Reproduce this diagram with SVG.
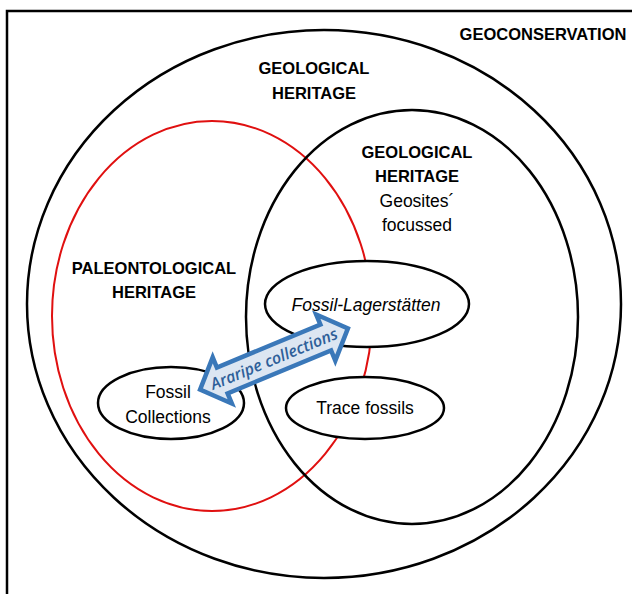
<svg xmlns="http://www.w3.org/2000/svg" width="632" height="594" viewBox="0 0 632 594">
<style>
.ln{fill:none;stroke:#000;stroke-width:2.5}
.red{fill:none;stroke:#e01010;stroke-width:2}
.box{fill:#fff;stroke:#000;stroke-width:2.5}
text{font-family:"Liberation Sans",Arial,sans-serif;text-anchor:middle;fill:#000}
.b{font-weight:bold;font-size:16.5px}
.r{font-size:17.5px}
.i{font-style:italic;font-size:17.5px}
.arrowtxt{font-family:"Open Sans","Liberation Sans",sans-serif;font-style:italic;font-weight:600;font-size:16px;fill:#2e5f99}
</style>
<rect width="632" height="594" fill="#fff"/>
<g id="geoconservation">
<rect x="7" y="11" width="640" height="600" class="ln"/>
<text x="543" y="40" class="b">GEOCONSERVATION</text>
</g>
<g id="geological-heritage">
<ellipse cx="324" cy="304" rx="297" ry="274" class="ln"/>
<text x="314" y="74" class="b">GEOLOGICAL</text>
<text x="314" y="99" class="b">HERITAGE</text>
</g>
<g id="paleontological-heritage">
<ellipse cx="212" cy="316" rx="160" ry="195" class="red"/>
<text x="154" y="274" class="b">PALEONTOLOGICAL</text>
<text x="154" y="298" class="b">HERITAGE</text>
</g>
<g id="geosites">
<ellipse cx="412" cy="317" rx="166" ry="207" class="ln"/>
<text x="417" y="158" class="b">GEOLOGICAL</text>
<text x="417" y="182" class="b">HERITAGE</text>
<text x="417" y="207" class="r">Geosites´</text>
<text x="417" y="231" class="r">focussed</text>
</g>
<g id="fossil-lagerstatten">
<ellipse cx="367" cy="304" rx="102" ry="43" class="box"/>
<text x="366" y="311" class="i">Fossil-Lagerstätten</text>
</g>
<g id="trace-fossils">
<ellipse cx="365" cy="408" rx="79" ry="31" class="box"/>
<text x="365" y="414" class="r">Trace fossils</text>
</g>
<g id="fossil-collections">
<ellipse cx="171" cy="403" rx="73" ry="36" class="box"/>
<text x="168" y="398" class="r">Fossil</text>
<text x="168" y="423" class="r">Collections</text>
</g>
<g id="connectors">
<g transform="translate(274,359) rotate(-22.5)">
<path d="M-80,0 L-56,-25 L-56,-14 L56,-14 L56,-25 L80,0 L56,25 L56,14 L-56,14 L-56,25 Z" fill="#dce6f2" stroke="#3a78b9" stroke-width="4.5" stroke-linejoin="miter"/>
<text x="0" y="5.5" class="arrowtxt">Araripe collections</text>
</g>
</g>
</svg>
